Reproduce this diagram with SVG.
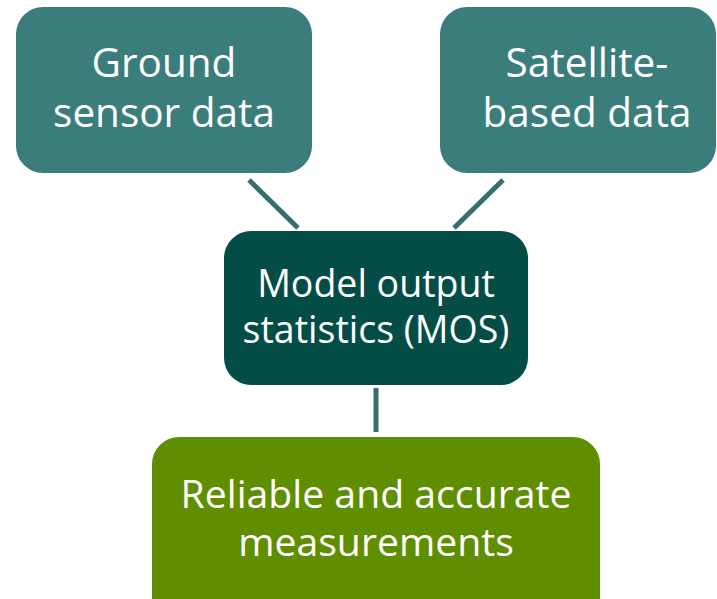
<svg xmlns="http://www.w3.org/2000/svg" width="717" height="599" viewBox="0 0 717 599">
<style>
.t{font-family:"Open Sans","Liberation Sans",sans-serif;fill:#fff;text-anchor:middle}
.top{font-size:40.5px}
.mid{font-size:37.5px}
.bot{font-size:39.2px}
.c{stroke:#366e6b;stroke-width:5;fill:none}
</style>
<rect width="717" height="599" fill="#fff"/>
<g id="connectors">
<line class="c" x1="249" y1="180" x2="298" y2="228"/>
<line class="c" x1="503" y1="180" x2="454" y2="228"/>
<line class="c" x1="376" y1="388" x2="376" y2="432"/>
</g>
<g id="ground">
<rect x="16" y="7" width="296" height="166" rx="27" fill="#3a7d7b"/>
<text class="t top" x="164" y="77">Ground</text>
<text class="t top" x="164" y="127">sensor data</text>
</g>
<g id="satellite">
<rect x="440" y="7" width="276" height="166" rx="27" fill="#3a7d7b"/>
<text class="t top" x="587" y="77">Satellite-</text>
<text class="t top" x="587" y="127">based data</text>
</g>
<g id="mos">
<rect x="224" y="231" width="304" height="154" rx="27" fill="#044d47"/>
<text class="t mid" x="376" y="297">Model output</text>
<text class="t mid" x="376" y="343">statistics (MOS)</text>
</g>
<g id="result">
<rect x="152" y="437" width="448" height="190" rx="27" fill="#5f8e00"/>
<text class="t bot" x="376" y="508">Reliable and accurate</text>
<text class="t bot" x="376" y="556">measurements</text>
</g>
</svg>
